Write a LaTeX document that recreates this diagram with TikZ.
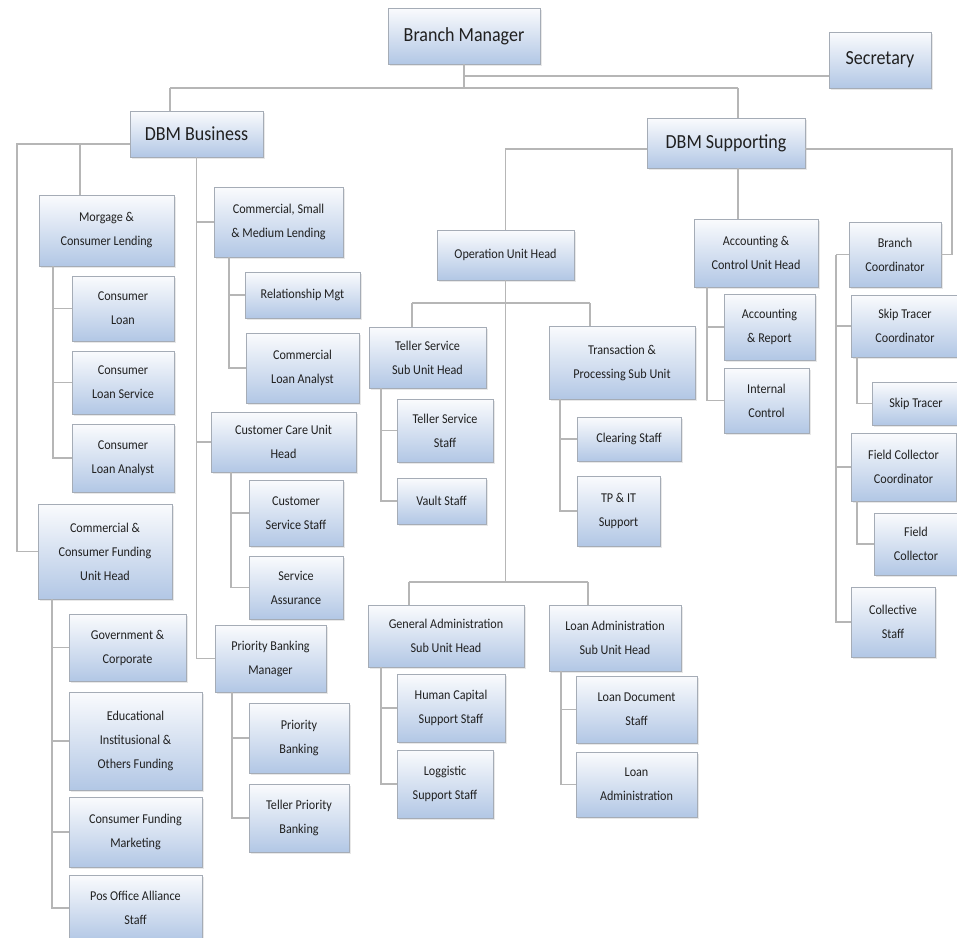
\documentclass[tikz,border=0pt]{standalone}
\usepackage{fontspec}
\setmainfont{Carlito}[FakeStretch=0.9]
\usetikzlibrary{shadows}
\definecolor{boxtop}{RGB}{250,251,253}
\definecolor{boxbot}{RGB}{178,199,229}
\definecolor{boxline}{RGB}{165,172,182}
\definecolor{connc}{RGB}{182,182,182}
\definecolor{txtc}{RGB}{32,32,32}
\tikzset{
  box/.style={draw=boxline, line width=0.8pt, top color=boxtop, bottom color=boxbot,
    inner sep=0pt, outer sep=0pt, align=center, text=txtc,
    drop shadow={opacity=0.18, shadow xshift=1.5pt, shadow yshift=-1.5pt}},
  bigtxt/.style={font={\fontsize{20}{24}\selectfont}},
  smalltxt/.style={font={\fontsize{13.5}{24}\selectfont}},
  conn/.style={draw=connc, line width=1.7pt}
}
\newcommand\bx[7]{\node[box,#7,minimum width={(#4-#2)*1pt},minimum height={(#5-#3)*1pt}] (#1) at ({(#2+#4)/2},{(#3+#5)/2}) {#6};}
\begin{document}
\begin{tikzpicture}[x=1pt,y=-1pt]
\path[use as bounding box, clip] (0,0) rectangle (957,937);
\fill[white] (0,0) rectangle (957,937);
% ---------- coordinates for buses ----------
\coordinate (xl) at (170,88);
\coordinate (xr) at (738,88);
\coordinate (s1) at (465,76);
\coordinate (b1) at (17,144);
\coordinate (b2) at (80,144);
\coordinate (sL) at (505.5,149);
\coordinate (sR) at (952,149);
\coordinate (o1) at (412,303);
\coordinate (o2) at (590,303);
\coordinate (o3) at (409,582);
\coordinate (o4) at (588,582);
\coordinate (bcx) at (836,254.5);
% ---------- boxes ----------
\bx{bm}{388}{8}{540}{64}{Branch Manager}{bigtxt}
\bx{sec}{829}{32}{931}{88}{Secretary}{bigtxt}
\bx{dbmb}{130}{111}{263}{157}{DBM Business}{bigtxt}
\bx{dbms}{647}{118}{805}{168}{DBM Supporting}{bigtxt}
\bx{morg}{39}{195}{174}{266}{Morgage \&\\Consumer Lending}{smalltxt}
\bx{csml}{214}{187}{343}{257}{Commercial, Small\\\& Medium Lending}{smalltxt}
\bx{rel}{245}{272}{360}{318}{Relationship Mgt}{smalltxt}
\bx{cla}{246}{333}{359}{403}{Commercial\\Loan Analyst}{smalltxt}
\bx{cl}{72}{276}{174}{341}{Consumer\\Loan}{smalltxt}
\bx{cls}{72}{351}{174}{414}{Consumer\\Loan Service}{smalltxt}
\bx{clan}{72}{424}{174}{492}{Consumer\\Loan Analyst}{smalltxt}
\bx{ccf}{38}{504}{172}{599}{Commercial \&\\Consumer Funding\\Unit Head}{smalltxt}
\bx{ccu}{211}{412}{356}{472}{Customer Care Unit\\Head}{smalltxt}
\bx{css}{249}{480}{343}{546}{Customer\\Service Staff}{smalltxt}
\bx{sa}{249}{556}{343}{619}{Service\\Assurance}{smalltxt}
\bx{gov}{69}{614}{186}{681}{Government \&\\Corporate}{smalltxt}
\bx{edu}{69}{692}{202}{790}{Educational\\Institusional \&\\Others Funding}{smalltxt}
\bx{cfm}{69}{797}{202}{867}{Consumer Funding\\Marketing}{smalltxt}
\bx{pos}{69}{875}{202}{941}{Pos Office Alliance\\Staff}{smalltxt}
\bx{pbm}{215}{625}{326}{692}{Priority Banking\\Manager}{smalltxt}
\bx{pb}{249}{703}{349}{773}{Priority\\Banking}{smalltxt}
\bx{tpb}{249}{784}{349}{852}{Teller Priority\\Banking}{smalltxt}
\bx{ouh}{437}{230}{574}{280}{Operation Unit Head}{smalltxt}
\bx{ts}{369}{327}{486}{388}{Teller Service\\Sub Unit Head}{smalltxt}
\bx{tss}{397}{399}{493}{462}{Teller Service\\Staff}{smalltxt}
\bx{vs}{397}{478}{486}{524}{Vault Staff}{smalltxt}
\bx{tp}{549}{326}{695}{399}{Transaction \&\\Processing Sub Unit}{smalltxt}
\bx{cs}{577}{417}{681}{461}{Clearing Staff}{smalltxt}
\bx{tpit}{577}{476}{660}{546}{TP \& IT\\Support}{smalltxt}
\bx{ga}{368}{605}{524}{667}{General Administration\\Sub Unit Head}{smalltxt}
\bx{la}{549}{605}{681}{671}{Loan Administration\\Sub Unit Head}{smalltxt}
\bx{hc}{397}{674}{505}{742}{Human Capital\\Support Staff}{smalltxt}
\bx{lg}{397}{750}{493}{818}{Loggistic\\Support Staff}{smalltxt}
\bx{ld}{576}{676}{697}{743}{Loan Document\\Staff}{smalltxt}
\bx{lad}{576}{752}{697}{817}{Loan\\Administration}{smalltxt}
\bx{acu}{694}{219}{818}{287}{Accounting \&\\Control Unit Head}{smalltxt}
\bx{ar}{724}{294}{815}{360}{Accounting\\\& Report}{smalltxt}
\bx{ic}{724}{368}{809}{433}{Internal\\Control}{smalltxt}
\bx{bc}{849}{222}{941}{287}{Branch\\Coordinator}{smalltxt}
\bx{stc}{851}{295}{959}{357}{Skip Tracer\\Coordinator}{smalltxt}
\bx{st}{872}{382}{960}{425}{Skip Tracer}{smalltxt}
\bx{fcc}{851}{433}{956}{501}{Field Collector\\Coordinator}{smalltxt}
\bx{fc}{874}{513}{958}{575}{Field\\Collector}{smalltxt}
\bx{col}{851}{587}{935}{657}{Collective\\Staff}{smalltxt}
% ---------- connectors ----------
\coordinate (mb) at ([xshift=14pt]morg.south west);
\coordinate (cb) at ([xshift=15pt]csml.south west);
\coordinate (ub) at ([xshift=20pt]ccu.south west);
\coordinate (fb) at ([xshift=14pt]ccf.south west);
\coordinate (pbb) at ([xshift=17pt]pbm.south west);
\coordinate (tsb) at ([xshift=12pt]ts.south west);
\coordinate (tpb0) at ([xshift=11pt]tp.south west);
\coordinate (gab) at ([xshift=13pt]ga.south west);
\coordinate (lab) at ([xshift=12pt]la.south west);
\coordinate (acb) at ([xshift=13pt]acu.south west);
\coordinate (stb) at ([xshift=6pt]stc.south west);
\coordinate (fcb) at ([xshift=6pt]fcc.south west);
% top level
\draw[conn] (bm.south) -- (bm.south |- xl);
\draw[conn] (xl) -- (xr);
\draw[conn] (xl) -- (dbmb.north -| xl);
\draw[conn] (xr) -- (dbms.north -| xr);
\draw[conn] (s1) -- (sec.west |- s1);
% DBM Business
\draw[conn] (dbmb.west |- b1) -- (b1) |- (ccf.west);
\draw[conn] (b2) -- (morg.north -| b2);
\draw[conn] (dbmb.south) |- (csml.west);
\draw[conn] (dbmb.south) |- (ccu.west);
\draw[conn] (dbmb.south) |- (pbm.west);
\draw[conn] (mb) |- (cl.west);
\draw[conn] (mb) |- (cls.west);
\draw[conn] (mb) |- (clan.west);
\draw[conn] (cb) |- (rel.west);
\draw[conn] (cb) |- (cla.west);
\draw[conn] (ub) |- (css.west);
\draw[conn] (ub) |- (sa.west);
\draw[conn] (fb) |- (gov.west);
\draw[conn] (fb) |- (edu.west);
\draw[conn] (fb) |- (cfm.west);
\draw[conn] (fb) |- (pos.west);
\draw[conn] (pbb) |- (pb.west);
\draw[conn] (pbb) |- (tpb.west);
% DBM Supporting
\draw[conn] (dbms.west |- sL) -- (sL) -- (ouh.north);
\draw[conn] (dbms.east |- sR) -- (sR) |- (bc.east);
\draw[conn] (dbms.south -| xr) -- (acu.north -| xr);
\draw[conn] (ouh.south) -- (ouh.south |- o3);
\draw[conn] (o1) -- (o2);
\draw[conn] (o1) -- (ts.north -| o1);
\draw[conn] (o2) -- (tp.north -| o2);
\draw[conn] (o3) -- (o4);
\draw[conn] (o3) -- (ga.north -| o3);
\draw[conn] (o4) -- (la.north -| o4);
\draw[conn] (tsb) |- (tss.west);
\draw[conn] (tsb) |- (vs.west);
\draw[conn] (tpb0) |- (cs.west);
\draw[conn] (tpb0) |- (tpit.west);
\draw[conn] (gab) |- (hc.west);
\draw[conn] (gab) |- (lg.west);
\draw[conn] (lab) |- (ld.west);
\draw[conn] (lab) |- (lad.west);
\draw[conn] (acb) |- (ar.west);
\draw[conn] (acb) |- (ic.west);
\draw[conn] (bc.west) -- (bcx);
\draw[conn] (bcx) |- (stc.west);
\draw[conn] (bcx) |- (fcc.west);
\draw[conn] (bcx) |- (col.west);
\draw[conn] (stb) |- (st.west);
\draw[conn] (fcb) |- (fc.west);
\end{tikzpicture}
\end{document}
